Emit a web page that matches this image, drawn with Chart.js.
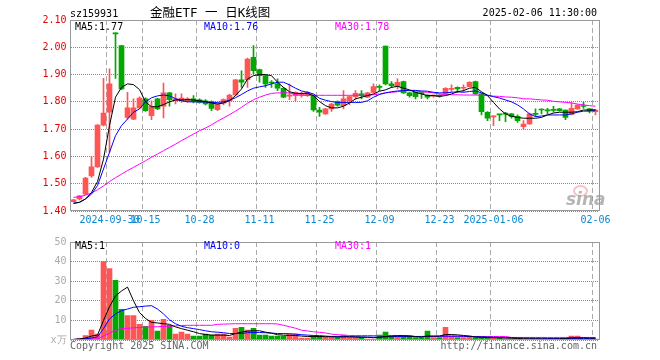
<!DOCTYPE html>
<html>
<head>
<meta charset="utf-8">
<script src="https://cdn.jsdelivr.net/npm/chart.js@4.4.1/dist/chart.umd.min.js"></script>
<style>
  body { margin: 0; background: #fff; }
  #wrap { position: relative; width: 660px; height: 360px; overflow: hidden;
          font-family: 'DejaVu Sans Mono', monospace; font-size: 10px; }
  canvas { position: absolute; left: 0; }
  .t { position: absolute; white-space: pre; line-height: 12px; }
</style>
</head>
<body>
<div id="wrap">
  <canvas id="kline" width="660" height="232" style="top:0"></canvas>
  <canvas id="vol" width="660" height="128" style="top:232px"></canvas>

  <div class="t" style="left:70px;top:8px;color:#000;">sz159931</div>
  <div class="t" style="left:150px;top:6px;font-size:12.5px;line-height:14px;font-family:'DejaVu Sans Mono','Noto Sans CJK SC',monospace;">金融ETF 一 日K线图</div>
  <div class="t" style="right:63px;top:7px;">2025-02-06 11:30:00</div>

  <div class="t" style="left:75px;top:21px;color:#000;">MA5:1.77</div>
  <div class="t" style="left:204px;top:21px;color:#0000ff;">MA10:1.76</div>
  <div class="t" style="left:335px;top:21px;color:#ff00ff;">MA30:1.78</div>

  <div class="t" style="left:75px;top:240px;color:#000;">MA5:1</div>
  <div class="t" style="left:204px;top:240px;color:#0000ff;">MA10:0</div>
  <div class="t" style="left:335px;top:240px;color:#ff00ff;">MA30:1</div>

  <div class="t" style="left:70px;top:340px;color:#666;">Copyright 2025 SINA.COM</div>
  <div class="t" style="right:63px;top:340px;color:#666;">http://finance.sina.com.cn</div>

  <div style="position:absolute;left:573px;top:185px;width:11px;height:8px;border:2px solid rgba(240,120,120,0.45);border-radius:50%;"></div>
  <div class="t" style="left:566px;top:191px;font:italic bold 17px 'DejaVu Sans',sans-serif;line-height:16px;color:rgba(150,150,150,0.7);">sina</div>
</div>

<script>
// trading days shown on the chart
const dates = [
  '2024-09-20','2024-09-23','2024-09-24','2024-09-25','2024-09-26','2024-09-27','2024-09-30',
  '2024-10-08','2024-10-09','2024-10-10','2024-10-11','2024-10-14','2024-10-15','2024-10-16',
  '2024-10-17','2024-10-18','2024-10-21','2024-10-22','2024-10-23','2024-10-24','2024-10-25',
  '2024-10-28','2024-10-29','2024-10-30','2024-10-31',
  '2024-11-01','2024-11-04','2024-11-05','2024-11-06','2024-11-07','2024-11-08','2024-11-11',
  '2024-11-12','2024-11-13','2024-11-14','2024-11-15','2024-11-18','2024-11-19','2024-11-20',
  '2024-11-21','2024-11-22','2024-11-25','2024-11-26','2024-11-27','2024-11-28','2024-11-29',
  '2024-12-02','2024-12-03','2024-12-04','2024-12-05','2024-12-06','2024-12-09','2024-12-10',
  '2024-12-11','2024-12-12','2024-12-13','2024-12-16','2024-12-17','2024-12-18','2024-12-19',
  '2024-12-20','2024-12-23','2024-12-24','2024-12-25','2024-12-26','2024-12-27','2024-12-30',
  '2024-12-31',
  '2025-01-02','2025-01-03','2025-01-06','2025-01-07','2025-01-08','2025-01-09','2025-01-10',
  '2025-01-13','2025-01-14','2025-01-15','2025-01-16','2025-01-17','2025-01-20','2025-01-21',
  '2025-01-22','2025-01-23','2025-01-24','2025-01-27',
  '2025-02-05','2025-02-06'
];

const opens = [
  1.434,1.444,1.462,1.529,1.562, 1.715,1.762,2.053,2.006,1.743, 1.737,1.778,1.811,1.749,1.811,
  1.784,1.833,1.804,1.804,1.802, 1.811,1.807,1.804,1.801,1.771, 1.795,1.804,1.825,1.881,1.881,
  1.963,1.918,1.896,1.872,1.866, 1.850,1.821,1.823,1.825,1.823, 1.823,1.770,1.756,1.774,1.801,
  1.786,1.804,1.819,1.829,1.817, 1.835,1.856,2.004,1.866,1.857, 1.874,1.833,1.835,1.832,1.825,
  1.821,1.823,1.831,1.846,1.853, 1.850,1.856,1.874,1.829,1.762, 1.745,1.753,1.757,1.756,1.747,
  1.709,1.719,1.756,1.772,1.768, 1.771,1.774,1.770,1.754,1.774, 1.785,1.774,1.764
];
const highs = [
  1.443,1.457,1.523,1.599,1.717, 1.886,1.921,2.053,2.006,1.835, 1.811,1.818,1.815,1.804,1.813,
  1.869,1.835,1.829,1.829,1.816, 1.823,1.811,1.808,1.804,1.795, 1.811,1.828,1.883,1.914,1.960,
  2.006,1.920,1.898,1.878,1.884, 1.853,1.866,1.837,1.835,1.839, 1.826,1.780,1.776,1.795,1.804,
  1.841,1.821,1.841,1.841,1.835, 1.866,1.862,2.004,1.874,1.884, 1.876,1.835,1.837,1.835,1.826,
  1.826,1.826,1.852,1.862,1.855, 1.862,1.874,1.876,1.831,1.764, 1.749,1.754,1.762,1.758,1.752,
  1.731,1.759,1.774,1.774,1.776, 1.784,1.776,1.771,1.798,1.790, 1.798,1.776,1.772
];
const lows = [
  1.432,1.441,1.460,1.523,1.560, 1.712,1.615,1.886,1.845,1.737, 1.735,1.776,1.765,1.735,1.771,
  1.741,1.784,1.792,1.798,1.799, 1.796,1.795,1.789,1.768,1.768, 1.789,1.784,1.822,1.853,1.853,
  1.902,1.872,1.853,1.853,1.841, 1.815,1.808,1.804,1.817,1.820, 1.765,1.747,1.754,1.765,1.784,
  1.774,1.790,1.810,1.811,1.815, 1.833,1.841,1.862,1.853,1.847, 1.831,1.817,1.811,1.813,1.811,
  1.817,1.817,1.826,1.837,1.835, 1.837,1.855,1.827,1.752,1.731, 1.713,1.731,1.727,1.740,1.725,
  1.700,1.717,1.747,1.756,1.756, 1.762,1.766,1.735,1.752,1.772, 1.776,1.759,1.752
];
const closes = [
  1.441,1.456,1.521,1.562,1.715, 1.759,1.866,2.049,1.847,1.778, 1.778,1.814,1.768,1.784,1.774,
  1.833,1.808,1.811,1.814,1.811, 1.801,1.798,1.792,1.776,1.792, 1.808,1.825,1.881,1.872,1.957,
  1.914,1.896,1.866,1.869,1.850, 1.817,1.823,1.835,1.827,1.835, 1.770,1.762,1.774,1.792,1.788,
  1.811,1.819,1.831,1.823,1.833, 1.856,1.853,1.866,1.859,1.872, 1.833,1.823,1.819,1.830,1.817,
  1.823,1.821,1.850,1.848,1.847, 1.852,1.872,1.829,1.764,1.740, 1.747,1.752,1.755,1.747,1.731,
  1.719,1.756,1.754,1.770,1.767, 1.769,1.768,1.743,1.776,1.788, 1.783,1.768,1.770
];

const ma5 = [
  1.428,1.432,1.444,1.468,1.508, 1.590,1.713,1.817,1.853,1.866, 1.863,1.845,1.800,1.782,1.782,
  1.790,1.800,1.807,1.807,1.808, 1.807,1.804,1.801,1.796,1.792, 1.796,1.804,1.823,1.847,1.884,
  1.896,1.900,1.900,1.896,1.872, 1.853,1.837,1.831,1.831,1.831, 1.823,1.801,1.786,1.778,1.778,
  1.784,1.796,1.811,1.817,1.823, 1.829,1.839,1.844,1.853,1.857, 1.850,1.844,1.835,1.829,1.823,
  1.823,1.820,1.823,1.829,1.837, 1.841,1.850,1.853,1.837,1.823, 1.798,1.774,1.756,1.747,1.743,
  1.740,1.740,1.740,1.743,1.752, 1.759,1.762,1.762,1.762,1.764, 1.770,1.770,1.771
];
const ma10 = [
  1.428,1.432,1.444,1.462,1.493, 1.554,1.615,1.676,1.713,1.737, 1.762,1.774,1.800,1.815,1.822,
  1.825,1.822,1.812,1.804,1.800, 1.800,1.800,1.799,1.798,1.798, 1.800,1.806,1.815,1.827,1.840,
  1.850,1.855,1.859,1.866,1.872, 1.872,1.862,1.850,1.840,1.835, 1.829,1.813,1.806,1.801,1.798,
  1.798,1.798,1.798,1.798,1.804, 1.817,1.827,1.833,1.837,1.840, 1.841,1.842,1.842,1.840,1.839,
  1.835,1.833,1.833,1.835,1.837, 1.835,1.838,1.840,1.833,1.825, 1.819,1.814,1.807,1.800,1.789,
  1.774,1.756,1.746,1.748,1.752, 1.752,1.752,1.752,1.756,1.762, 1.766,1.766,1.768
];
const ma30 = [
  1.450,1.452,1.458,1.466,1.478, 1.492,1.508,1.522,1.535,1.548, 1.560,1.572,1.584,1.597,1.609,
  1.621,1.633,1.645,1.658,1.670, 1.682,1.694,1.704,1.716,1.729, 1.741,1.753,1.766,1.780,1.795,
  1.808,1.817,1.825,1.831,1.833, 1.833,1.833,1.826,1.824,1.824, 1.824,1.824,1.824,1.824,1.824,
  1.824,1.824,1.824,1.824,1.824, 1.826,1.829,1.833,1.835,1.837, 1.841,1.841,1.840,1.837,1.835,
  1.833,1.829,1.826,1.826,1.826, 1.825,1.825,1.825,1.824,1.823, 1.821,1.820,1.818,1.817,1.815,
  1.811,1.811,1.809,1.807,1.806, 1.802,1.800,1.798,1.796,1.792, 1.789,1.786,1.784
];

// volume, x万
const volumes = [
  0.3,0.8,2.3,5,3, 40,36.5,30.5,15.7,12.5, 12.5,8,7,10,4.5, 10.5,7.5,3,4,3,
  2,2,3,2.5,3, 3,1.5,6,6.5,5, 6,2.5,2.5,2,2, 2,3,3,1,1,
  2,2,1.5,1.5,1.2, 2.5,1.2,1.2,1.2,0.5, 0.5,2.5,4,2,2, 2,2,1.2,1.2,4.5,
  1.2,1.2,6.5,2,1.2, 1.2,2,1.2,1.2,1.2, 1.2,1.2,0.5,0.5,0.5, 0.5,0.5,0.5,0.5,0.5,
  0.5,0.5,0.5,2,2, 0.5,0.5,0.5
];
const volMa5 = [
  0.3,0.5,1.0,2.0,2.5, 10,17,22.5,25,27, 20,14,11,9,8.7, 8.3,8,6.7,5.8,5,
  4.2,3.3,2.8,2.5,2.5, 2.5,2.3,3.3,4,4.5, 4.7,4.7,4,3.5,2.7, 2.5,2.3,2.3,2,1.8,
  1.8,1.8,1.7,1.7,1.5, 1.6,1.6,1.5,1.4,1.4, 1.2,1.4,1.8,2.0,2.2, 2.2,2.0,1.7,1.5,2.0,
  2.0,2.0,2.8,2.8,2.6, 2.3,2.0,1.5,1.4,1.3, 1.2,1.1,1.0,0.9,0.8, 0.6,0.6,0.6,0.5,0.5,
  0.5,0.5,0.8,1.1,1.1, 1.1,1.0,1.0
];
const volMa10 = [
  0.3,0.4,0.6,1.0,1.6, 5.8,10.8,13.3,15,15.8, 16.7,17,17.3,17.5,15.8, 13.3,10.3,8.3,7,6.3,
  5.8,5.3,4.7,4.2,4, 3.7,3.3,3.3,3.3,3.7, 3.8,3.8,3.7,3.5,3.3, 3.3,3.2,3,2.7,2.5,
  2.3,2.2,2,1.8,1.8, 1.8,1.7,1.7,1.6,1.5, 1.5,1.5,1.6,1.7,1.8, 1.8,1.8,1.8,1.8,1.9,
  1.9,2.0,2.0,2.0,2.0, 1.9,1.8,1.7,1.6,1.5, 1.4,1.3,1.2,1.2,1.1, 1.0,1.0,0.9,0.9,0.8,
  0.8,0.8,0.8,0.8,0.8, 0.8,0.8,0.8
];
const volMa30 = [
  0.3,0.3,0.4,0.5,0.6, 2.0,3.5,5.0,5.8,6.0, 6.2,6.4,6.6,6.7,6.8, 6.9,7.0,7.2,7.4,7.5,
  7.5,7.5,7.5,7.5,8.0, 8.1,8.2,8.3,8.3,8.3, 8.3,8.3,8.3,8.3,8.2, 7.5,6.8,6.0,5.0,4.6,
  4.2,3.9,3.6,3.0,2.7, 2.5,2.3,2.3,2.3,2.3, 2.3,2.3,2.3,2.3,2.3, 2.3,2.3,1.8,1.8,1.8,
  1.8,1.8,1.8,1.8,1.8, 1.8,1.8,1.8,1.8,1.8, 1.8,1.8,1.8,1.3,1.3, 1.3,1.3,1.3,1.3,1.3,
  1.3,1.3,1.3,1.3,1.3, 1.3,1.3,1.3
];

// labelled dates on the x axis
const xTickDates = ['2024-09-30','2024-10-15','2024-10-28','2024-11-11','2024-11-25',
                    '2024-12-09','2024-12-23','2025-01-06','2025-02-06'];
const xTickText  = ['2024-09-30','10-15','10-28','11-11','11-25',
                    '12-09','12-23','2025-01-06','02-06'];

const UP = '#ff5555';
const DOWN = '#00a800';

Chart.defaults.font.family = "'DejaVu Sans Mono', monospace";
Chart.defaults.font.size = 10;

const candleColors = opens.map((o, i) => closes[i] >= o ? UP : DOWN);
const tickIndex = xTickDates.map(d => dates.indexOf(d));

// grey box round each panel
const framePlugin = {
  id: 'frame',
  afterDatasetsDraw(chart) {
    const { ctx, chartArea: a } = chart;
    const left = Math.floor(a.left), right = Math.round(a.right);
    const top = Math.round(a.top), bottom = Math.round(a.bottom);
    ctx.save();
    ctx.strokeStyle = '#999';
    ctx.lineWidth = 1;
    ctx.strokeRect(left + 0.5, top + 0.5, right - left, bottom - top - 1);
    ctx.restore();
  }
};

function maLine(data, color) {
  return {
    type: 'line', data: data, borderColor: color, borderWidth: 1,
    pointRadius: 0, tension: 0, fill: false, order: 0
  };
}

// dashed date lines, dotted value lines (darker so they survive the render)
const xGrid = {
  offset: true,
  drawTicks: false,
  lineWidth: 1,
  color: ctx => tickIndex.includes(ctx.index) ? '#aaaaaa' : 'rgba(0,0,0,0)'
};
const xBorder = { display: false, dash: [5, 3] };
const yGrid = { drawTicks: false, lineWidth: 1, color: '#888888' };
const yBorder = { display: false, dash: [1, 1] };

new Chart(document.getElementById('kline'), {
  type: 'bar',
  data: {
    labels: dates,
    datasets: [
      {
        data: lows.map((l, i) => [l, highs[i]]),
        backgroundColor: candleColors,
        barThickness: 1, grouped: false, order: 2
      },
      {
        data: opens.map((o, i) => [o, closes[i]]),
        backgroundColor: candleColors,
        barThickness: 5, minBarLength: 1, grouped: false, order: 1
      },
      maLine(ma5, '#000000'),
      maLine(ma10, '#0000ff'),
      maLine(ma30, '#ff00ff')
    ]
  },
  options: {
    responsive: false,
    devicePixelRatio: 1,
    animation: false,
    events: [],
    layout: { padding: { top: 20, right: 61.5, left: 0, bottom: 0 } },
    plugins: { legend: { display: false }, tooltip: { enabled: false } },
    scales: {
      x: {
        type: 'category',
        offset: true,
        grid: xGrid,
        border: xBorder,
        ticks: {
          autoSkip: false, maxRotation: 0, minRotation: 0, padding: 3,
          color: '#0a88d0',
          callback: (v, i) => {
            const k = tickIndex.indexOf(i);
            return k >= 0 ? xTickText[k] : '';
          }
        },
        afterFit: s => { s.height = 21; }
      },
      y: {
        min: 1.4, max: 2.1,
        grid: yGrid,
        border: yBorder,
        ticks: { stepSize: 0.1, padding: 4, color: '#e60000', callback: v => v.toFixed(2) },
        afterFit: s => { s.width = 70.5; }
      }
    }
  },
  plugins: [framePlugin]
});

new Chart(document.getElementById('vol'), {
  type: 'bar',
  data: {
    labels: dates,
    datasets: [
      {
        data: volumes,
        backgroundColor: candleColors,
        barThickness: 5, order: 1
      },
      maLine(volMa5, '#000000'),
      maLine(volMa10, '#0000ff'),
      maLine(volMa30, '#ff00ff')
    ]
  },
  options: {
    responsive: false,
    devicePixelRatio: 1,
    animation: false,
    events: [],
    layout: { padding: { top: 8, right: 61.5, left: 0, bottom: 0 } },
    plugins: { legend: { display: false }, tooltip: { enabled: false } },
    scales: {
      x: {
        type: 'category',
        offset: true,
        grid: xGrid,
        border: xBorder,
        ticks: { display: false, autoSkip: false },
        afterFit: s => { s.height = 20; }
      },
      y: {
        min: 0, max: 50,
        grid: yGrid,
        border: yBorder,
        ticks: { stepSize: 10, padding: 4, color: '#aaaaaa', callback: v => v === 0 ? 'x万' : v },
        afterFit: s => { s.width = 70.5; }
      }
    }
  },
  plugins: [framePlugin]
});
</script>
</body>
</html>
